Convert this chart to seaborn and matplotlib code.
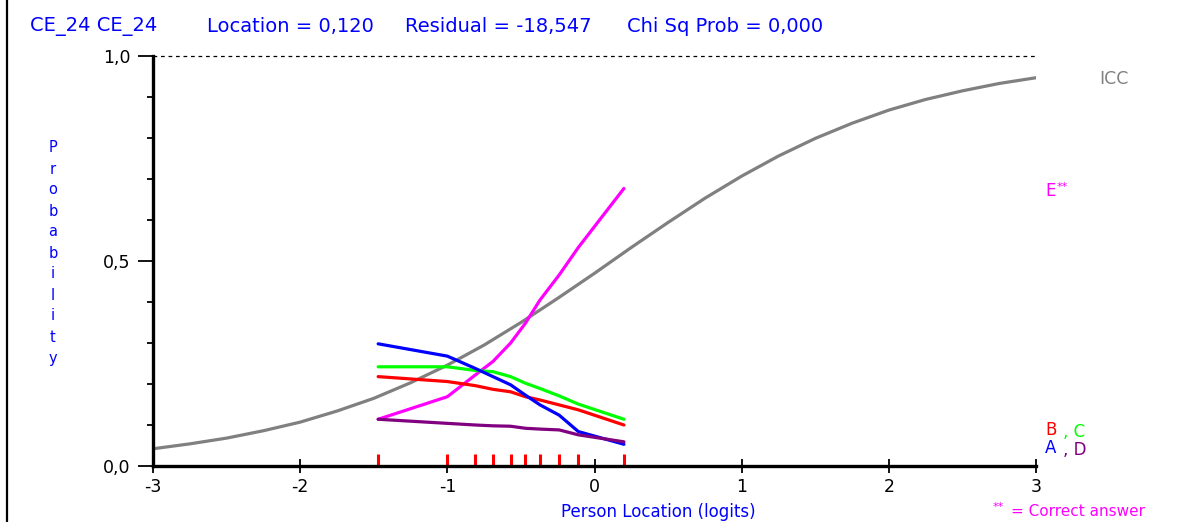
import numpy as np
import pandas as pd
import matplotlib
matplotlib.use("Agg")
import matplotlib.pyplot as plt
from matplotlib.lines import Line2D
from matplotlib.ticker import MultipleLocator
import seaborn as sns

# Class-interval mean person locations (logits)
class_locations = [-1.47, -1.00, -0.81, -0.69, -0.57, -0.47, -0.37, -0.24, -0.11, 0.20]

# Observed proportion choosing each option per class interval
prob_A = [0.298, 0.268, 0.238, 0.218, 0.198, 0.173, 0.149, 0.124, 0.084, 0.053]
prob_B = [0.218, 0.206, 0.196, 0.187, 0.181, 0.169, 0.161, 0.149, 0.137, 0.100]
prob_C = [0.242, 0.242, 0.233, 0.230, 0.218, 0.202, 0.189, 0.171, 0.151, 0.114]
prob_D = [0.114, 0.104, 0.100, 0.098, 0.097, 0.092, 0.090, 0.088, 0.076, 0.059]
prob_E = [0.114, 0.169, 0.222, 0.255, 0.300, 0.348, 0.405, 0.466, 0.533, 0.677]

# Item characteristic curve
icc_location = [-3.00, -2.75, -2.50, -2.25, -2.00, -1.75, -1.50, -1.25, -1.00,
                -0.75, -0.50, -0.25, 0.00, 0.25, 0.50, 0.75, 1.00, 1.25, 1.50,
                1.75, 2.00, 2.25, 2.50, 2.75, 3.00]
icc_prob = [0.042, 0.054, 0.068, 0.086, 0.107, 0.134, 0.165, 0.203, 0.246,
            0.295, 0.350, 0.409, 0.470, 0.533, 0.594, 0.653, 0.707, 0.756,
            0.799, 0.836, 0.868, 0.894, 0.915, 0.933, 0.947]

options = ["A", "B", "C", "D", "E"]
option_colors = {"A": "#0000FF", "B": "#FF0000", "C": "#00FF00",
                 "D": "#800080", "E": "#FF00FF"}

x_ticks = [-3, -2, -1, 0, 1, 2, 3]
x_tick_labels = ["-3", "-2", "-1", "0", "1", "2", "3"]
y_ticks = [0.0, 0.5, 1.0]
y_tick_labels = ["0,0", "0,5", "1,0"]

title_parts = ["CE_24 CE_24", "Location = 0,120", "Residual = -18,547",
               "Chi Sq Prob = 0,000"]

sns.set_style("white")
plt.rcParams["font.family"] = ["DejaVu Sans"]

curves = pd.DataFrame({
    "location": class_locations * len(options),
    "prob": prob_A + prob_B + prob_C + prob_D + prob_E,
    "option": [o for o in options for _ in class_locations],
})
icc = pd.DataFrame({"location": icc_location, "prob": icc_prob})

W, H = 1178, 522
fig = plt.figure(figsize=(W / 100, H / 100), dpi=100)
fig.patch.set_facecolor("white")
ax = fig.add_axes([153 / W, 56 / H, (1036 - 153) / W, (466 - 56) / H])
ax.set_facecolor("white")

# upper bound reference line
ax.plot([-3, 3], [1.0, 1.0], color="black", lw=0.9, ls=(0, (3, 3)),
        clip_on=False, zorder=1)

sns.lineplot(data=icc, x="location", y="prob", color="#808080", lw=2.3,
             ax=ax, legend=False, zorder=2)
sns.lineplot(data=curves, x="location", y="prob", hue="option",
             hue_order=["E", "C", "B", "A", "D"], palette=option_colors,
             lw=2.3, ax=ax, legend=False, zorder=3)

# class-interval markers on the x axis
ax.vlines(class_locations, 0, 0.03, colors="#FF0000", lw=2.2, zorder=4)

ax.set_xlim(-3, 3)
ax.set_ylim(0, 1)
for side in ("top", "right"):
    ax.spines[side].set_visible(False)
for side in ("left", "bottom"):
    ax.spines[side].set_color("black")
    ax.spines[side].set_linewidth(2.4)
    ax.spines[side].set_zorder(5)

ax.set_xticks(x_ticks)
ax.set_xticklabels(x_tick_labels)
ax.set_yticks(y_ticks)
ax.set_yticklabels(y_tick_labels)
ax.yaxis.set_minor_locator(MultipleLocator(0.1))
ax.tick_params(axis="x", which="major", direction="inout", length=10, width=1.3,
               colors="black", labelsize=12.5, pad=4, bottom=True)
ax.tick_params(axis="y", which="major", direction="out", length=11, width=1.3,
               colors="black", labelsize=12.5, pad=5, left=True)
ax.tick_params(axis="y", which="minor", direction="out", length=4.5, width=1.3,
               colors="black", left=True)
ax.set_xlabel("")
ax.set_ylabel("")

# header line
for part, xp in zip(title_parts, [30, 207, 405, 627]):
    fig.text(xp / W, 1 - 26 / H, part, color="#0000FF", fontsize=14,
             ha="left", va="center")

fig.text(658 / W, 1 - 512 / H, "Person Location (logits)", color="#0000FF",
         fontsize=12, ha="center", va="center")

# vertical stacked y-axis title
for i, ch in enumerate("Probability"):
    fig.text(53 / W, 1 - (148 + i * 21) / H, ch, color="#0000FF",
             fontsize=10.5, ha="center", va="center")

# curve labels at the right
fig.text(1099 / W, 1 - 79 / H, "ICC", color="#808080", fontsize=12.5,
         ha="left", va="center")
fig.text(1045 / W, 1 - 191 / H, "E", color="#FF00FF", fontsize=12,
         ha="left", va="center")
fig.text(1057 / W, 1 - 187 / H, "**", color="#FF00FF", fontsize=8,
         ha="left", va="center")
fig.text(1045 / W, 1 - 430 / H, "B", color="#FF0000", fontsize=12,
         ha="left", va="center")
fig.text(1063 / W, 1 - 432 / H, ", C", color="#00FF00", fontsize=12,
         ha="left", va="center")
fig.text(1045 / W, 1 - 448 / H, "A", color="#0000FF", fontsize=12,
         ha="left", va="center")
fig.text(1063 / W, 1 - 450 / H, ", D", color="#800080", fontsize=12,
         ha="left", va="center")
fig.text(993 / W, 1 - 507 / H, "**", color="#FF00FF", fontsize=8,
         ha="left", va="center")
fig.text(1011 / W, 1 - 511 / H, "= Correct answer", color="#FF00FF",
         fontsize=11, ha="left", va="center")

# window border on the left
fig.add_artist(Line2D([7 / W, 7 / W], [0, 1], color="black", lw=1.6,
                      transform=fig.transFigure))

fig.savefig("out.png", dpi=100, facecolor="white")
